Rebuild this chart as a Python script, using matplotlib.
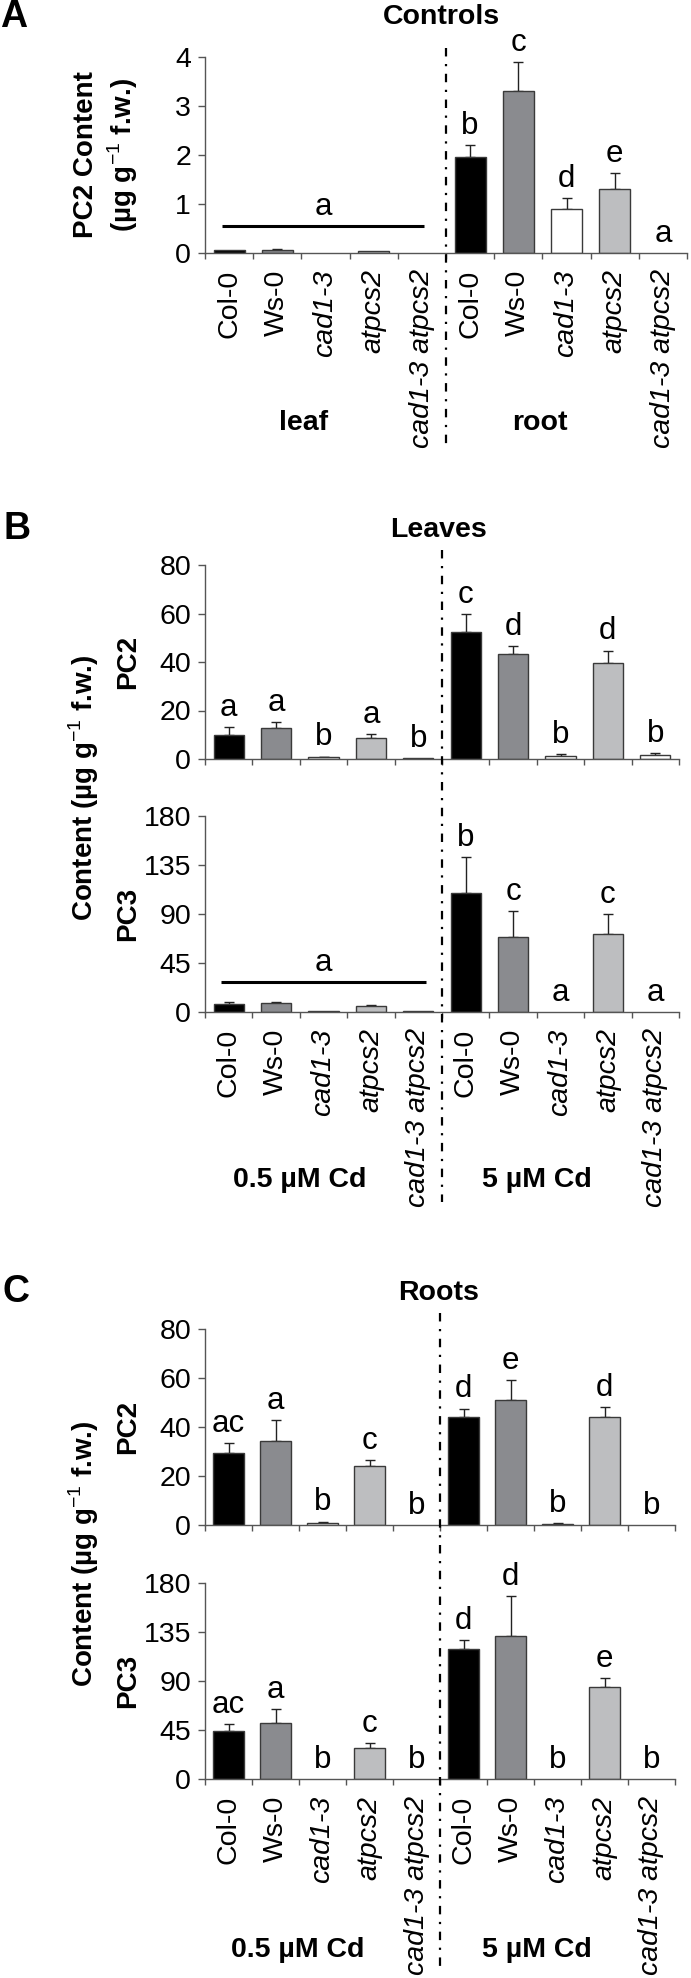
import matplotlib
matplotlib.use("Agg")
import matplotlib.pyplot as plt
import matplotlib.transforms as mtrans
from matplotlib.lines import Line2D
import numpy as np

plt.rcParams['font.family'] = ['Liberation Sans', 'DejaVu Sans']
plt.rcParams['mathtext.fontset'] = 'custom'
plt.rcParams['mathtext.rm'] = 'Liberation Sans'
plt.rcParams['mathtext.bf'] = 'Liberation Sans:bold'

# data
genotypes = ['Col-0', 'Ws-0', 'cad1-3', 'atpcs2', 'cad1-3 atpcs2']
italic = [False, False, True, True, True]

a_pc2 = [0.05, 0.05, 0.0, 0.03, 0.0, 1.96, 3.29, 0.89, 1.31, 0.0]
a_pc2_err = [0.0, 0.02, 0.0, 0.0, 0.0, 0.24, 0.60, 0.23, 0.31, 0.0]
a_pc2_let = ['', '', '', '', '', 'b', 'c', 'd', 'e', 'a']

b_pc2 = [9.9, 12.6, 0.7, 8.7, 0.3, 52.5, 43.4, 1.2, 39.7, 1.6]
b_pc2_err = [3.4, 2.5, 0.3, 1.6, 0.0, 7.3, 3.3, 0.8, 5.0, 0.7]
b_pc2_let = ['a', 'a', 'b', 'a', 'b', 'c', 'd', 'b', 'd', 'b']

b_pc3 = [6.7, 7.7, 0.8, 5.2, 0.6, 109.3, 68.3, 0.0, 71.1, 0.0]
b_pc3_err = [2.5, 1.5, 0.0, 0.7, 0.0, 32.5, 24.2, 0.0, 18.9, 0.0]
b_pc3_let = ['', '', '', '', '', 'b', 'c', 'a', 'c', 'a']

c_pc2 = [29.6, 34.5, 0.95, 24.3, 0.0, 44.3, 51.1, 0.55, 44.3, 0.0]
c_pc2_err = [3.8, 8.4, 0.45, 2.3, 0.0, 3.3, 8.3, 0.4, 4.0, 0.0]
c_pc2_let = ['ac', 'a', 'b', 'c', 'b', 'd', 'e', 'b', 'd', 'b']

c_pc3 = [44.4, 51.4, 0.0, 28.5, 0.0, 119.7, 131.6, 0.0, 84.5, 0.0]
c_pc3_err = [6.1, 12.9, 0.0, 4.5, 0.0, 8.2, 36.4, 0.0, 8.8, 0.0]
c_pc3_let = ['ac', 'a', 'b', 'c', 'b', 'd', 'd', 'b', 'e', 'b']

# shared "a" group lines: (y value, x start, x end)
a_line = (0.545, -0.15, 4.05)
b_line = (27.3, -0.17, 4.17)

colors = ['black', '#8a8b8f', 'white', '#bdbec0', 'white'] * 2

W, H = 691, 1978
fig = plt.figure(figsize=(W / 100, H / 100), dpi=100)


def px_axes(l, t, r, b):
    return fig.add_axes([l / W, 1 - b / H, (r - l) / W, (b - t) / H])


def ftext(x, y, s, **kw):
    fig.text(x / W, 1 - y / H, s, **kw)


def panel(ax, vals, errs, lets, ymax, yticks, labels=True, line=None):
    x = np.arange(len(vals))
    vals = np.array(vals)
    errs = np.array(errs)
    nz = vals > 0
    ax.bar(x[nz], vals[nz], width=0.64, color=[c for c, k in zip(colors, nz) if k],
           edgecolor='#3a3a3a', linewidth=1, zorder=2)
    m = errs > 0
    ax.errorbar(x[m], vals[m], yerr=[np.zeros(m.sum()), errs[m]], fmt='none', ecolor='#222222',
                elinewidth=1, capsize=3.5, capthick=1, zorder=1)
    for xi, v, e, l in zip(x, vals, errs, lets):
        if l:
            ax.annotate(l, (xi, v + e), xytext=(0, 8), textcoords='offset points',
                        ha='center', va='baseline', fontsize=22.5)
    if line is not None:
        yv, x0, x1 = line
        ax.plot([x0, x1], [yv, yv], color='black', lw=2.2, solid_capstyle='butt')
        ax.annotate('a', ((x0 + x1) / 2, yv), xytext=(0, 8), textcoords='offset points',
                    ha='center', va='baseline', fontsize=22.5)
    ax.set_xlim(-0.5, 9.5)
    ax.set_ylim(0, ymax)
    ax.set_yticks(yticks)
    ax.set_yticklabels([str(t) for t in yticks])
    for t in ax.get_yticklabels():
        t.set_fontfamily(['Liberation Sans Narrow', 'Liberation Sans'])
        t.set_fontsize(20.5)
    ax.tick_params(axis='y', direction='out', length=5, width=1, color='#555555', pad=5)
    ax.set_xticks(np.arange(-0.5, 10, 1), minor=True)
    ax.set_xticks(x)
    ax.tick_params(axis='x', which='major', length=0, pad=12)
    ax.tick_params(axis='x', which='minor', direction='out', length=4, width=1, color='#555555')
    if labels:
        ax.set_xticklabels(genotypes * 2, rotation=90, fontsize=20.5)
        for t, it in zip(ax.get_xticklabels(), italic * 2):
            if it:
                t.set_fontstyle('italic')
    else:
        ax.set_xticklabels([])
    for s in ['top', 'right']:
        ax.spines[s].set_visible(False)
    for s in ['left', 'bottom']:
        ax.spines[s].set_color('#555555')
        ax.spines[s].set_linewidth(1)
    ax.set_facecolor('none')


def divider(ax, y0, y1):
    tr = mtrans.blended_transform_factory(ax.transData, fig.transFigure)
    ln = Line2D([4.5, 4.5], [1 - y0 / H, 1 - y1 / H], transform=tr, color='black',
                lw=1.6, linestyle=(0, (3.8, 3.4, 1, 3.4)))
    fig.add_artist(ln)


unit = r'(µg g$^{-1}$ f.w.)'

# panel A
axA = px_axes(205, 56.7, 687, 252.7)
panel(axA, a_pc2, a_pc2_err, a_pc2_let, 4, [0, 1, 2, 3, 4], line=a_line)
divider(axA, 48, 448)
ftext(14, 17, 'A', fontsize=27, fontweight='bold', ha='center', va='center')
ftext(441, 17, 'Controls', fontsize=20.5, fontweight='bold', ha='center', va='center')
ftext(86, 155, 'PC2 Content', fontsize=20, fontweight='bold', rotation=90, ha='center', va='center')
ftext(123, 155, unit, fontsize=20, fontweight='bold', rotation=90, ha='center', va='center')
ftext(304, 423, 'leaf', fontsize=20.5, fontweight='bold', ha='center', va='center')
ftext(540, 423, 'root', fontsize=20.5, fontweight='bold', ha='center', va='center')

# panel B
axB1 = px_axes(205, 565, 679, 759)
panel(axB1, b_pc2, b_pc2_err, b_pc2_let, 80, [0, 20, 40, 60, 80], labels=False)
axB2 = px_axes(205, 815.7, 679, 1011.7)
panel(axB2, b_pc3, b_pc3_err, b_pc3_let, 180, [0, 45, 90, 135, 180], line=b_line)
divider(axB1, 550, 1202)
ftext(17, 529, 'B', fontsize=27, fontweight='bold', ha='center', va='center')
ftext(439, 530, 'Leaves', fontsize=20.5, fontweight='bold', ha='center', va='center')
ftext(84, 788, 'Content ' + unit, fontsize=20, fontweight='bold', rotation=90, ha='center', va='center')
ftext(128, 662, 'PC2', fontsize=20, fontweight='bold', rotation=90, ha='center', va='center')
ftext(128, 914, 'PC3', fontsize=20, fontweight='bold', rotation=90, ha='center', va='center')
ftext(300, 1180, '0.5 µM Cd', fontsize=20.5, fontweight='bold', ha='center', va='center')
ftext(537, 1180, '5 µM Cd', fontsize=20.5, fontweight='bold', ha='center', va='center')

# panel C
axC1 = px_axes(205, 1329.3, 675, 1525)
panel(axC1, c_pc2, c_pc2_err, c_pc2_let, 80, [0, 20, 40, 60, 80], labels=False)
axC2 = px_axes(205, 1583.3, 675, 1779.3)
panel(axC2, c_pc3, c_pc3_err, c_pc3_let, 180, [0, 45, 90, 135, 180])
divider(axC1, 1313, 1968)
ftext(16, 1292, 'C', fontsize=27, fontweight='bold', ha='center', va='center')
ftext(439, 1293, 'Roots', fontsize=20.5, fontweight='bold', ha='center', va='center')
ftext(84, 1554, 'Content ' + unit, fontsize=20, fontweight='bold', rotation=90, ha='center', va='center')
ftext(128, 1427, 'PC2', fontsize=20, fontweight='bold', rotation=90, ha='center', va='center')
ftext(128, 1681, 'PC3', fontsize=20, fontweight='bold', rotation=90, ha='center', va='center')
ftext(298, 1950, '0.5 µM Cd', fontsize=20.5, fontweight='bold', ha='center', va='center')
ftext(537, 1950, '5 µM Cd', fontsize=20.5, fontweight='bold', ha='center', va='center')

fig.savefig('out.png', dpi=100)
